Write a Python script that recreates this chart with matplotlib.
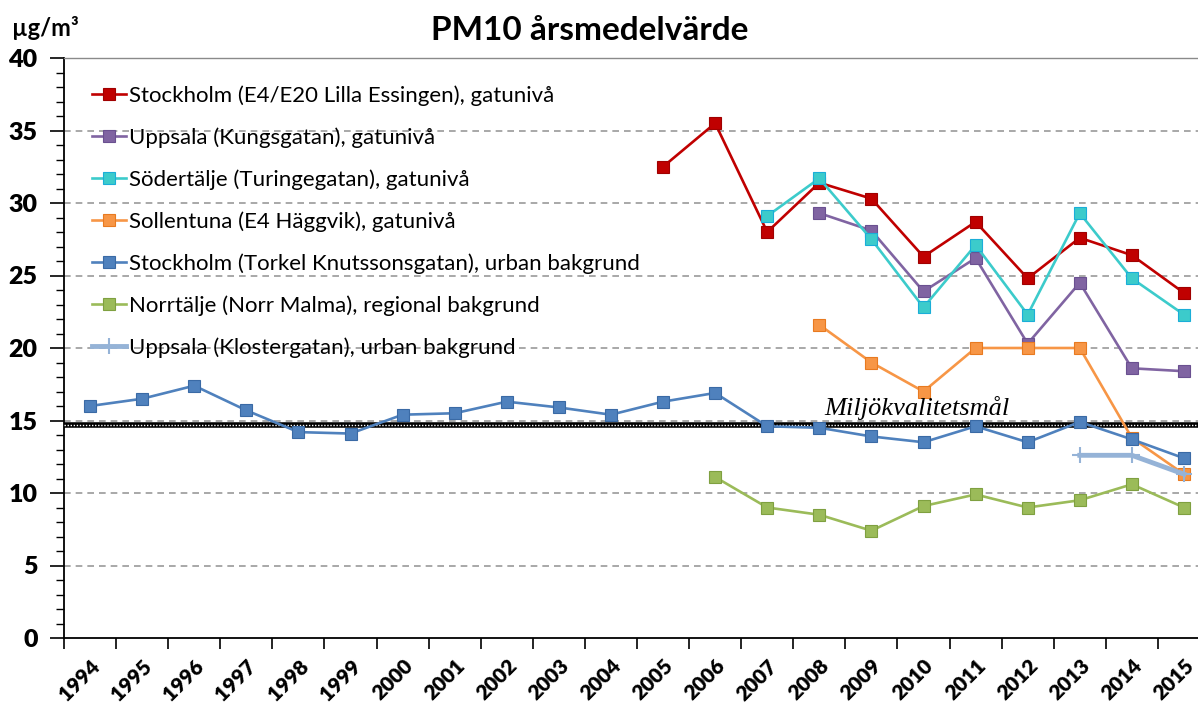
import numpy as np
import matplotlib
matplotlib.use("Agg")
import matplotlib.pyplot as plt
from matplotlib.ticker import MultipleLocator, FixedLocator

nan = np.nan
years = [str(y) for y in range(1994, 2016)]

# PM10 annual means (µg/m³)
sthlm_essingen = [nan] * 11 + [32.5, 35.5, 28.0, 31.4, 30.3, 26.3, 28.7, 24.8, 27.6, 26.4, 23.8]
uppsala_kungsg = [nan] * 14 + [29.3, 28.1, 23.9, 26.2, 20.3, 24.5, 18.6, 18.4]
sodertalje = [nan] * 13 + [29.1, 31.7, 27.5, 22.8, 27.1, 22.3, 29.3, 24.8, 22.3]
sollentuna = [nan] * 14 + [21.6, 19.0, 17.0, 20.0, 20.0, 20.0, 13.8, 11.3]
sthlm_torkel = [16.0, 16.5, 17.4, 15.7, 14.2, 14.1, 15.4, 15.5, 16.3, 15.9, 15.4,
                16.3, 16.9, 14.6, 14.5, 13.9, 13.5, 14.6, 13.5, 14.9, 13.7, 12.4]
norrtalje = [nan] * 12 + [11.1, 9.0, 8.5, 7.4, 9.1, 9.9, 9.0, 9.5, 10.6, 9.0]
uppsala_kloster = [nan] * 19 + [12.6, 12.6, 11.3]
goal_value = 14.7

series = [
    ("Stockholm (E4/E20 Lilla Essingen), gatunivå", sthlm_essingen, "#C00000", "#A00000"),
    ("Uppsala (Kungsgatan), gatunivå", uppsala_kungsg, "#8064A2", "#6A5090"),
    ("Södertälje (Turingegatan), gatunivå", sodertalje, "#3CCBCB", "#1AAED8"),
    ("Sollentuna (E4 Häggvik), gatunivå", sollentuna, "#F79646", "#E87A20"),
    ("Stockholm (Torkel Knutssonsgatan), urban bakgrund", sthlm_torkel, "#4F81BD", "#3A6AA5"),
    ("Norrtälje (Norr Malma), regional bakgrund", norrtalje, "#9BBB59", "#7FA040"),
]

plt.rcParams['font.family'] = ['Lato', 'DejaVu Sans']

fig = plt.figure(figsize=(11.98, 7.13), dpi=100)
ax = fig.add_axes([64 / 1198, 75 / 713, 1146 / 1198, 580 / 713])

x = np.arange(len(years))
for label, vals, col, edge in series:
    ax.plot(x, vals, color=col, lw=1.9, marker='s', markersize=9,
            markerfacecolor=col, markeredgecolor=edge, markeredgewidth=0.8,
            label=label, zorder=4)
ax.plot(x, uppsala_kloster, color='#95B3D7', lw=3.5, marker='+', markersize=11,
        markeredgewidth=1.5, label="Uppsala (Klostergatan), urban bakgrund", zorder=4)

# environmental quality goal
ax.axhline(goal_value, color='black', lw=4, zorder=3)
ax.axhline(goal_value, color='white', lw=1, ls=(0, (1, 1.2)), zorder=3)
ax.text(14.1, goal_value + 0.35, "Miljökvalitetsmål", family='Liberation Serif',
        style='italic', fontsize=19, ha='left', va='bottom', zorder=5)

ax.set_xlim(-0.5, len(years) - 0.5)
ax.set_ylim(0, 40)
ax.yaxis.set_major_locator(MultipleLocator(5))
ax.yaxis.set_minor_locator(MultipleLocator(1))
for v in range(5, 40, 5):
    ax.axhline(v, color='#9A9A9A', lw=1.2, ls=(0, (4, 3)), zorder=1)

ax.set_xticks(x)
ax.set_xticklabels(years, rotation=45, ha='right', rotation_mode='anchor',
                   fontsize=15, fontweight='heavy')
ax.xaxis.set_minor_locator(FixedLocator(np.arange(-0.5, len(years), 1)))
ax.tick_params(axis='x', which='major', length=0, pad=13)
ax.tick_params(axis='x', which='minor', length=8, width=1.2, direction='out')
ax.tick_params(axis='y', which='major', length=10, width=1.2, direction='out',
               labelsize=18, pad=9)
ax.tick_params(axis='y', which='minor', length=6, width=1.0, direction='out')
for t in ax.get_yticklabels():
    t.set_fontweight('heavy')

ax.spines['left'].set_linewidth(1.3)
ax.spines['bottom'].set_linewidth(1.3)
ax.spines['top'].set_color('#8A8A8A')
ax.spines['top'].set_linewidth(1.0)
ax.spines['right'].set_visible(False)

leg = ax.legend(loc='upper left', bbox_to_anchor=(0.017, 0.968), frameon=False,
                fontsize=16, handlelength=1.5, handletextpad=0.15, labelspacing=0.96,
                borderaxespad=0)

fig.text(590 / 1198, 1 - 31 / 713, "PM10 årsmedelvärde", ha='center', va='center',
         fontsize=24, fontweight='bold')
fig.text(12 / 1198, 1 - 28 / 713, "µg/m³", ha='left', va='center',
         fontsize=17, fontweight='bold')

fig.savefig("out.png", dpi=100)
